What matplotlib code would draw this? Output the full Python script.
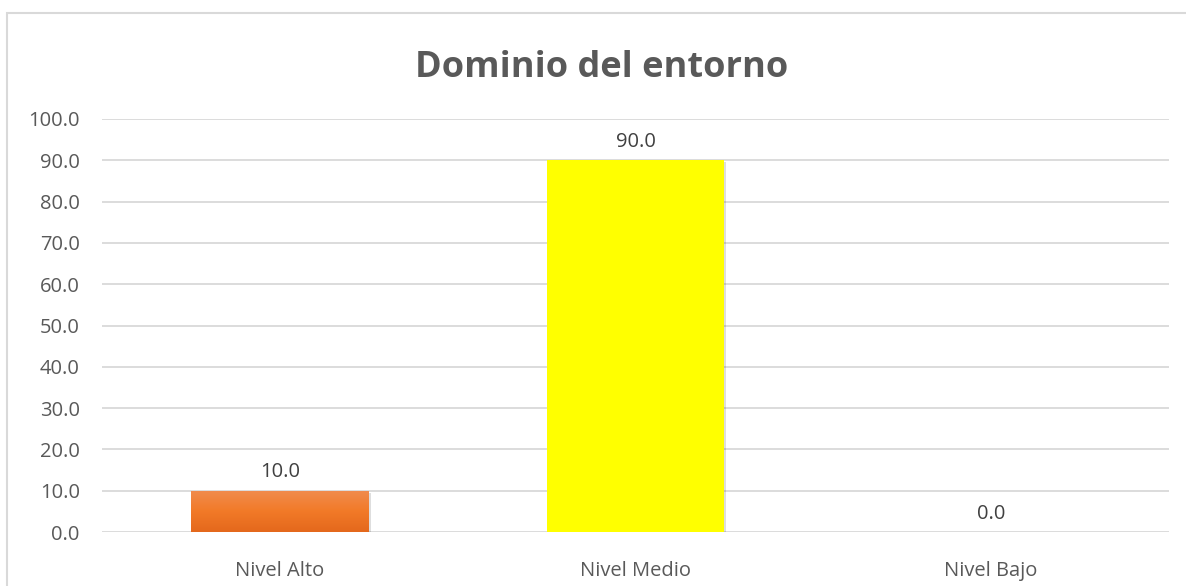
import matplotlib
matplotlib.use("Agg")
import matplotlib.pyplot as plt
import numpy as np
from matplotlib.patches import Rectangle
from matplotlib.colors import LinearSegmentedColormap

categories = ["Nivel Alto", "Nivel Medio", "Nivel Bajo"]
values = [10.0, 90.0, 0.0]
yticks = [0, 10, 20, 30, 40, 50, 60, 70, 80, 90, 100]
title = "Dominio del entorno"

plt.rcParams["font.family"] = ["Open Sans", "DejaVu Sans"]
text_color = "#595959"
grid_color = "#D9D9D9"

W, H = 1186, 586
fig = plt.figure(figsize=(W / 100, H / 100), dpi=100)

# chart frame
fig.patches.append(Rectangle((7 / W, -0.1), 1.2, 1 - 13 / H + 0.1,
                             transform=fig.transFigure, fill=False,
                             edgecolor=grid_color, linewidth=1.5))

ax = fig.add_axes([102 / W, 1 - 532 / H, (1169 - 102) / W, (532 - 119) / H])
ax.set_xlim(-0.5, 2.5)
ax.set_ylim(0, 100)
for s in ax.spines.values():
    s.set_visible(False)
ax.set_yticks(yticks)
ax.set_yticklabels([f"{v:.1f}" for v in yticks], fontsize=14.5, color=text_color)
ax.set_xticks(range(len(categories)))
ax.set_xticklabels(categories, fontsize=14.5, color=text_color)
ax.tick_params(axis="both", length=0)
ax.tick_params(axis="y", pad=16)
ax.tick_params(axis="x", pad=21)
ax.yaxis.grid(True, color=grid_color, linewidth=1.3)
ax.set_axisbelow(True)

orange = LinearSegmentedColormap.from_list("og", ["#E4681C", "#F27A28", "#F08C4E"])
width = 0.5
for i, v in enumerate(values):
    x0 = i - width / 2
    if v > 0:
        # soft shadow
        ax.add_patch(Rectangle((x0 + 0.005, -0.5), width, v, facecolor="#000000",
                               alpha=0.13, edgecolor="none", zorder=2))
    if i == 0:
        grad = np.linspace(0, 1, 256).reshape(-1, 1)
        im = ax.imshow(grad, cmap=orange, aspect="auto", origin="lower",
                       extent=(x0, x0 + width, 0, v), zorder=3)
        bar = Rectangle((x0, 0), width, v, facecolor="none", edgecolor="none", zorder=3)
        ax.add_patch(bar)
        im.set_clip_path(bar)
    else:
        ax.add_patch(Rectangle((x0, 0), width, v, facecolor="#FFFF00",
                               edgecolor="none", zorder=3))
    ax.annotate(f"{v:.1f}", (i, v), xytext=(0, 6), textcoords="offset points",
                ha="center", va="bottom", fontsize=14.5, color="#404040")

ax.set_xlim(-0.5, 2.5)
ax.set_ylim(0, 100)

fig.text(602 / W, 1 - 68 / H, title, ha="center", va="center",
         fontsize=26, fontweight="bold", color=text_color)

fig.savefig("out.png", dpi=100)
